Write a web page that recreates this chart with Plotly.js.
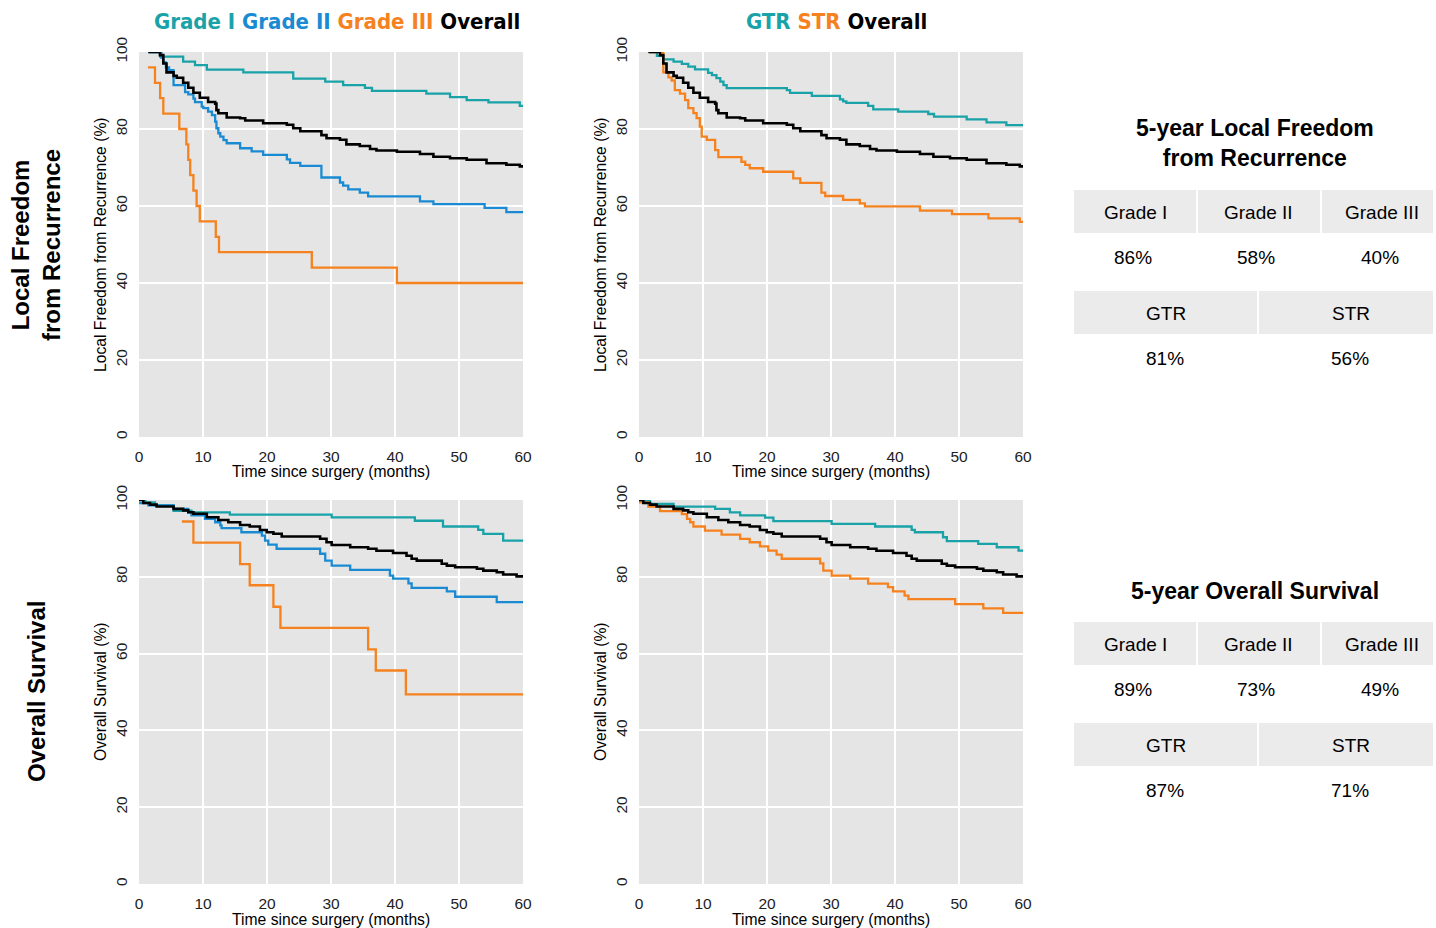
<!DOCTYPE html>
<html>
<head>
<meta charset="utf-8">
<script src="https://cdn.plot.ly/plotly-3.0.1.min.js"></script>
<style>
  html, body { margin: 0; padding: 0; background: #ffffff; }
  #chart { width: 1436px; height: 928px; }
</style>
</head>
<body>
<div id="chart"></div>
<script>
// ---------- DATA ----------
// Local freedom from recurrence, by grade
const lffrGrade1X = [1.5, 3.3, 6.9, 8.75, 10.6, 16.3, 24.1, 29.1, 31.9, 35.3, 36.4, 44.9, 48.6, 51.2, 54.6, 59.5, 60];
const lffrGrade1Y = [100, 98.8, 97.5, 96.6, 95.4, 94.7, 93.1, 92.3, 91.4, 90.7, 89.9, 89.2, 88.3, 87.5, 86.9, 86.0, 86.0];
const lffrGrade2X = [1.5, 3.5, 3.8, 4.2, 4.7, 5.4, 7.2, 7.7, 8.5, 8.75, 9.8, 10.05, 10.8, 11.4, 11.9, 12.1, 12.4, 12.7, 13.2, 13.7, 15.8, 17.6, 19.4, 23.1, 23.6, 25.2, 28.5, 31.4, 31.9, 32.7, 34.5, 35.8, 43.9, 46.0, 54.0, 57.4, 60];
const lffrGrade2Y = [100, 98.5, 97.3, 96.0, 95.3, 91.4, 89.6, 89.0, 87.9, 87.0, 85.8, 85.4, 84.5, 83.6, 81.9, 80.2, 78.9, 78.0, 77.1, 76.3, 75.0, 74.2, 73.3, 72.1, 71.2, 70.4, 67.4, 66.1, 65.3, 64.3, 63.5, 62.5, 61.2, 60.5, 59.5, 58.4, 58.4];
const lffrGrade3X = [1.4, 2.5, 3.3, 3.8, 6.3, 7.4, 7.7, 8.0, 8.5, 9.0, 9.5, 12.0, 12.5, 27.0, 40.3, 60];
const lffrGrade3Y = [96, 92, 88, 84, 80, 76, 72, 68, 64, 60, 56, 52, 48, 44, 40, 40];
const lffrOverallX = [1.46, 3.28, 3.8, 4.3, 5.4, 5.9, 6.9, 7.7, 8.5, 9.5, 10.8, 11.9, 12.1, 12.4, 13.7, 15.8, 16.6, 19.4, 23.1, 24.1, 25.2, 28.5, 29.3, 31.4, 32.4, 34.5, 36.1, 37.1, 40.3, 43.9, 46, 48.6, 51.2, 54.3, 57.4, 59.5, 60];
const lffrOverallY = [100, 99.2, 97.0, 94.7, 93.8, 93.3, 92.0, 90.7, 89.4, 88.1, 87.0, 86.6, 84.9, 84.1, 83.0, 82.8, 82.2, 81.5, 81.1, 80.2, 79.4, 78.4, 77.6, 77.2, 76.0, 75.6, 74.8, 74.4, 74.1, 73.5, 72.8, 72.4, 72.0, 71.1, 70.7, 70.3, 70.3];
// Local freedom from recurrence, by resection
const lffrGtrX = [1.7, 2.8, 3.8, 5.4, 6.7, 7.7, 8.75, 10.8, 11.4, 12.1, 12.7, 13.2, 13.7, 23.1, 23.6, 27.0, 31.4, 31.9, 32.4, 35.8, 36.6, 40.5, 45.2, 46.1, 51.2, 54.3, 57.4, 60];
const lffrGtrY = [100, 99.0, 98.1, 97.5, 96.9, 96.2, 95.5, 94.6, 94.0, 93.2, 92.3, 91.4, 90.6, 90.1, 89.4, 88.6, 87.7, 87.2, 86.8, 86.0, 85.1, 84.5, 83.9, 83.2, 82.5, 81.7, 81.0, 81.0];
const lffrStrX = [1.7, 3.8, 4.6, 5.1, 5.6, 6.4, 7.2, 7.7, 8.5, 9.0, 9.5, 9.8, 10.6, 11.9, 12.4, 16.0, 16.6, 17.3, 19.4, 24.1, 25.2, 28.5, 29.1, 31.9, 34.5, 35.3, 43.9, 48.9, 54.6, 59.5, 60];
const lffrStrY = [100, 94.7, 93.4, 92.6, 90.1, 89.2, 87.5, 85.4, 84.1, 82.8, 80.6, 78.0, 77.2, 74.5, 72.7, 71.5, 70.7, 69.8, 68.9, 67.2, 66.0, 63.5, 62.6, 61.6, 60.7, 59.9, 58.8, 57.9, 56.8, 55.9, 55.9];
// Overall survival, by grade
const osGrade1X = [0, 1.0, 2.5, 5.4, 8.2, 14.2, 30.1, 43.1, 47.5, 53.0, 53.8, 56.9, 60];
const osGrade1Y = [100, 99.4, 98.6, 97.2, 96.8, 96.2, 95.5, 94.6, 93.1, 92.2, 91.2, 89.4, 89.4];
const osGrade2X = [0, 1.46, 5.4, 7.7, 8.2, 10.3, 11.9, 12.7, 12.9, 16.0, 19.2, 19.7, 20.2, 21.5, 28.3, 29.1, 30.1, 33.0, 39.2, 39.7, 42.1, 42.6, 48.1, 49.4, 55.9, 60];
const osGrade2Y = [99.2, 98.6, 97.7, 96.8, 96.0, 95.1, 94.2, 93.4, 92.7, 91.6, 90.7, 89.4, 88.4, 87.3, 86.0, 84.2, 82.9, 81.8, 80.3, 79.5, 78.3, 77.1, 76.2, 74.8, 73.4, 73.4];
const osGrade3X = [6.7, 8.5, 15.8, 17.3, 21.0, 22.1, 35.8, 37.0, 41.7, 60];
const osGrade3Y = [94.4, 88.9, 83.3, 77.8, 72.2, 66.7, 61.1, 55.6, 49.4, 49.4];
const osOverallX = [0, 0.68, 1.72, 2.76, 5.4, 6.9, 7.7, 8.5, 10.6, 12.4, 13.96, 15.8, 17.3, 18.9, 19.95, 21.0, 22.3, 28.3, 29.3, 30.1, 33.0, 35.8, 37.1, 39.7, 41.8, 42.6, 43.4, 47.3, 48.1, 49.4, 52.8, 53.8, 55.9, 56.9, 59.0, 60];
const osOverallY = [100, 99.2, 98.8, 98.3, 97.7, 97.3, 96.8, 96.4, 95.5, 94.8, 94.2, 93.5, 93.1, 92.2, 91.6, 91.2, 90.5, 89.9, 89.0, 88.3, 87.7, 87.3, 86.8, 86.2, 85.5, 84.7, 84.2, 83.4, 82.9, 82.5, 82.1, 81.6, 81.2, 80.6, 80.1, 80.1];
// Overall survival, by resection
const osGtrX = [0, 1.72, 5.4, 11.9, 14.2, 15.8, 19.7, 21.0, 30.1, 36.9, 42.6, 43.1, 47.5, 48.1, 53.0, 55.9, 59.3, 60];
const osGtrY = [99.7, 99.0, 98.3, 97.7, 96.8, 96.0, 95.4, 94.5, 93.8, 93.1, 92.2, 91.6, 90.3, 89.3, 88.6, 87.7, 86.8, 86.8];
const osStrX = [0, 1.46, 3.28, 6.7, 7.5, 8.0, 8.5, 10.3, 12.9, 15.8, 17.3, 18.9, 20.2, 21.5, 22.3, 28.3, 28.8, 30.1, 33.0, 35.8, 38.9, 39.7, 41.5, 42.1, 49.4, 53.8, 56.9, 60];
const osStrY = [99.4, 98.3, 97.1, 96.3, 95.1, 94.2, 93.1, 92.0, 91.0, 89.9, 89.0, 87.9, 86.8, 85.8, 84.7, 83.5, 81.6, 80.3, 79.5, 78.2, 77.3, 76.2, 75.1, 74.2, 72.9, 71.8, 70.6, 70.6];

// Tick labels
const xTickVals = [0, 10, 20, 30, 40, 50, 60];
const yTickVals = [0, 20, 40, 60, 80, 100];

// Summary tables
const gradeLabels = ["Grade I", "Grade II", "Grade III"];
const resectionLabels = ["GTR", "STR"];
const lffr5yGrade = ["86%", "58%", "40%"];
const lffr5yResection = ["81%", "56%"];
const os5yGrade = ["89%", "73%", "49%"];
const os5yResection = ["87%", "71%"];

// ---------- STYLE ----------
const C_G1 = "#19a3a9";
const C_G2 = "#1a8bd2";
const C_G3 = "#f5821f";
const C_ALL = "#000000";
const W = 1436, H = 928;
const px = v => v / W;
const py = v => 1 - v / H;
const FONT = "Liberation Sans, Arial, Helvetica, sans-serif";
const NARROW = "Liberation Sans Narrow, DejaVu Sans Condensed, Arial Narrow, sans-serif";

function step(x, y, color, xa, ya, width) {
  return { x: x, y: y, type: "scatter", mode: "lines", line: { shape: "hv", color: color, width: width || 2.3 },
           xaxis: xa, yaxis: ya, hoverinfo: "x+y", showlegend: false };
}

const traces = [
  step(lffrGrade1X, lffrGrade1Y, C_G1, "x", "y"),
  step(lffrGrade2X, lffrGrade2Y, C_G2, "x", "y"),
  step(lffrGrade3X, lffrGrade3Y, C_G3, "x", "y"),
  step(lffrOverallX, lffrOverallY, C_ALL, "x", "y", 2.6),
  step(lffrGtrX, lffrGtrY, C_G1, "x2", "y2"),
  step(lffrStrX, lffrStrY, C_G3, "x2", "y2"),
  step(lffrOverallX, lffrOverallY, C_ALL, "x2", "y2", 2.6),
  step(osGrade1X, osGrade1Y, C_G1, "x3", "y3"),
  step(osGrade2X, osGrade2Y, C_G2, "x3", "y3"),
  step(osGrade3X, osGrade3Y, C_G3, "x3", "y3"),
  step(osOverallX, osOverallY, C_ALL, "x3", "y3", 2.6),
  step(osGtrX, osGtrY, C_G1, "x4", "y4"),
  step(osStrX, osStrY, C_G3, "x4", "y4"),
  step(osOverallX, osOverallY, C_ALL, "x4", "y4", 2.6)
];

const colL = [px(139), px(523)];
const colR = [px(639), px(1023)];
const rowT = [py(437), py(52)];
const rowB = [py(884), py(500)];

function xax(dom, anchor) {
  return { domain: dom, anchor: anchor, range: [0, 60], tickvals: xTickVals, ticktext: xTickVals.map(String),
           showgrid: true, gridcolor: "#ffffff", gridwidth: 1.5, zeroline: false, showline: false,
           ticks: "", ticklabelstandoff: 8, tickfont: { family: FONT, size: 15.5, color: "#222" }, fixedrange: true };
}
function yax(dom, anchor) {
  return { domain: dom, anchor: anchor, range: [0, 100], tickvals: yTickVals, ticktext: yTickVals.map(String),
           tickangle: -90, showgrid: true, gridcolor: "#ffffff", gridwidth: 1.5, zeroline: false, showline: false,
           ticks: "", ticklabelstandoff: 8, tickfont: { family: FONT, size: 15.5, color: "#222" }, fixedrange: true };
}

const annotations = [];
const shapes = [];
function ann(text, x, y, size, opts) {
  annotations.push(Object.assign({ text: text, x: px(x), y: py(y), xref: "paper", yref: "paper",
    showarrow: false, xanchor: "center", yanchor: "middle",
    font: { family: FONT, size: size, color: "#000" } }, opts || {}));
}

// Header legends
const sp = (c, t) => '<span style="color:' + c + '">' + t + '</span>';
ann("<b>" + sp(C_G1, "Grade I") + " " + sp(C_G2, "Grade II") + " " + sp(C_G3, "Grade III") + " " + sp(C_ALL, "Overall") + "</b>",
    337, 21, 22, { font: { family: NARROW, size: 22, color: "#000" } });
ann("<b>" + sp(C_G1, "GTR") + " " + sp(C_G3, "STR") + " " + sp(C_ALL, "Overall") + "</b>",
    836, 21, 22, { font: { family: NARROW, size: 22, color: "#000" } });

// Row titles
ann("<b>Local Freedom<br>from Recurrence</b>", 36, 245, 24, { textangle: -90 });
ann("<b>Overall Survival</b>", 36, 692, 24, { textangle: -90 });

// Axis titles
[[100, 245, "Local Freedom from Recurrence (%)"], [600, 245, "Local Freedom from Recurrence (%)"],
 [100, 692, "Overall Survival (%)"], [600, 692, "Overall Survival (%)"]].forEach(a =>
  ann(a[2], a[0], a[1], 15.7, { textangle: -90 }));
[[331, 472], [831, 472], [331, 919], [831, 919]].forEach(a =>
  ann("Time since surgery (months)", a[0], a[1], 15.7));

// Tables
function rect(x0, x1, y0, y1) {
  shapes.push({ type: "rect", xref: "paper", yref: "paper", x0: px(x0), x1: px(x1), y0: py(y1), y1: py(y0),
                fillcolor: "#ebebeb", line: { width: 0 }, layer: "below" });
}
function table(title, titleY, hY0, vals3, h2Y0, vals2) {
  ann("<b>" + title + "</b>", 1255, titleY, 23);
  const c3 = [[1074, 1196], [1198, 1320], [1322, 1433]];
  const t3 = [1135, 1258, 1382];
  c3.forEach((c, i) => {
    rect(c[0], c[1], hY0, hY0 + 43);
    ann(gradeLabels[i], t3[i], hY0 + 22, 19);
    ann(vals3[i], t3[i] - 2, hY0 + 67, 19);
  });
  const c2 = [[1074, 1257], [1259, 1433]];
  const t2 = [1166, 1351];
  c2.forEach((c, i) => {
    rect(c[0], c[1], h2Y0, h2Y0 + 43);
    ann(resectionLabels[i], t2[i], h2Y0 + 22, 19);
    ann(vals2[i], t2[i] - 1, h2Y0 + 67, 19);
  });
}
table("5-year Local Freedom<br>from Recurrence", 143, 190, lffr5yGrade, 291, lffr5yResection);
table("5-year Overall Survival", 591, 622, os5yGrade, 723, os5yResection);

const layout = {
  width: W, height: H, margin: { l: 0, r: 0, t: 0, b: 0 },
  paper_bgcolor: "#ffffff", plot_bgcolor: "#e5e5e5",
  showlegend: false,
  xaxis: xax(colL, "y"), yaxis: yax(rowT, "x"),
  xaxis2: xax(colR, "y2"), yaxis2: yax(rowT, "x2"),
  xaxis3: xax(colL, "y3"), yaxis3: yax(rowB, "x3"),
  xaxis4: xax(colR, "y4"), yaxis4: yax(rowB, "x4"),
  annotations: annotations, shapes: shapes
};

Plotly.newPlot("chart", traces, layout, { displayModeBar: false, staticPlot: false });
</script>
</body>
</html>
